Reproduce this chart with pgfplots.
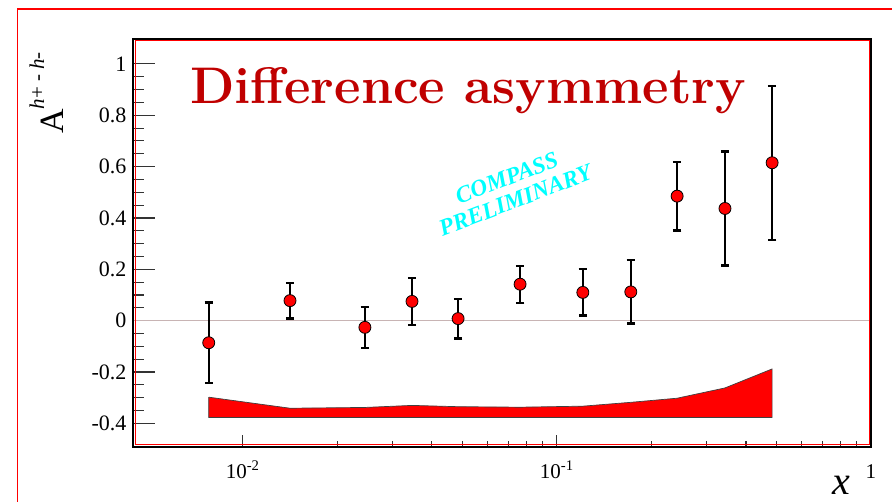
\documentclass[border=0pt]{standalone}
\usepackage{pgfplots}
\pgfplotsset{compat=1.18}
\usepackage{pgfplotstable}
\usepackage{fontspec}
\setmainfont{Liberation Serif}
\newfontfamily\lmfont{Latin Modern Roman}
\definecolor{titlered}{RGB}{192,0,0}
\definecolor{zeroline}{RGB}{200,180,180}
\definecolor{stampcyan}{RGB}{0,255,255}
\definecolor{pureRed}{RGB}{255,0,0}
\pgfplotstableread{
x y e
0.0078 -0.086 0.157
0.01415 0.078 0.070
0.0245 -0.026 0.080
0.0346 0.075 0.092
0.0485 0.008 0.077
0.0764 0.142 0.072
0.121 0.110 0.090
0.172 0.112 0.123
0.2415 0.485 0.134
0.343 0.437 0.222
0.4845 0.615 0.300
}\datatable
\begin{document}
\begin{tikzpicture}[x=1pt,y=1pt]
\path[use as bounding box] (0,0) rectangle (892,502);
\fill[white] (0,0) rectangle (892,502);
\begin{scope}
\clip (0,0) rectangle (892,502);
\draw[pureRed, line width=1.6pt] (17.3,493) rectangle (910,-20);
\end{scope}
% axis with y ticks and data
\begin{axis}[at={(133pt,55pt)}, anchor=south west, scale only axis,
  width=738pt, height=408pt, xmode=log, xmin=0.004477, xmax=1, ymin=-0.492, ymax=1.097,
  tick align=inside, axis line style={black, line width=1.1pt},
  tick style={black!80, line width=1.1pt},
  xtick=\empty,
  ytick={-0.4,-0.2,0,0.2,0.4,0.6,0.8,1},
  yticklabels={-0.4,-0.2,0,0.2,0.4,0.6,0.8,1},
  minor y tick num=3,
  major tick length=22pt, minor tick length=11pt,
  ytick pos=left,
  yticklabel style={font=\fontsize{22}{26}\selectfont, xshift=-3pt},
]
\addplot[zeroline, line width=0.8pt] coordinates {(0.004477,0) (1,0)};
\addplot[fill=pureRed, draw=black!75, line width=0.7pt] coordinates {
(0.0078,-0.298) (0.01415,-0.341) (0.0245,-0.338) (0.0346,-0.330) (0.0485,-0.335)
(0.0764,-0.337) (0.121,-0.333) (0.172,-0.318) (0.2415,-0.302) (0.343,-0.262)
(0.4845,-0.188) (0.4845,-0.377) (0.0078,-0.377) (0.0078,-0.298)};
\addplot[only marks, mark=none,
  error bars/.cd, y dir=both, y explicit,
  error bar style={draw=black, line width=2.3pt},
  error mark options={draw=black, rotate=90, mark size=4.2pt, line width=2.3pt}]
  table[x=x, y=y, y error=e] {\datatable};
\addplot[only marks, mark=*, mark size=6pt,
  mark options={fill=pureRed, draw=black, line width=0.8pt}]
  table[x=x, y=y] {\datatable};
\end{axis}
% axis with x ticks
\begin{axis}[at={(133pt,55pt)}, anchor=south west, scale only axis,
  width=738pt, height=408pt, xmode=log, xmin=0.004477, xmax=1, ymin=-0.492, ymax=1.097,
  tick align=inside, axis line style={black, line width=1.1pt},
  tick style={black!80, line width=1.1pt},
  ytick=\empty,
  xtick={0.01,0.1,1},
  xticklabels={{10\textsuperscript{-2}},{10\textsuperscript{-1}},{1}},
  major tick length=12pt, minor tick length=6pt,
  xtick pos=bottom,
  xticklabel style={font=\fontsize{21}{24}\selectfont, anchor=north, inner sep=0pt,
    text height=14pt, yshift=-17pt},
]
\addplot[draw=none] coordinates {(0.01,0) (0.1,0)};
\end{axis}
\draw[pureRed, line width=1pt] (135,57) rectangle (869,461);
% title
\node[anchor=base west, text=titlered, inner sep=0pt,
  font=\lmfont\fontsize{51.5}{60}\selectfont\bfseries] at (190,398) {Di{f}{f}erence asymmetry};
% preliminary stamp
\node[rotate=21, text=stampcyan, align=center, inner sep=0pt,
  font=\fontsize{23.5}{24}\selectfont\bfseries\itshape] at (511,313) {COMPASS\\PRELIMINARY};
% axis titles
\node[anchor=base, inner sep=0pt, font=\fontsize{40}{40}\selectfont\itshape] at (841,7) {x};
\node[rotate=90, anchor=base, inner sep=0pt, font=\fontsize{34}{34}\selectfont]
  at (63,409) {A\raisebox{19pt}{\fontsize{21}{21}\selectfont\textit{h}+ - \textit{h}-}};
\end{tikzpicture}
\end{document}
